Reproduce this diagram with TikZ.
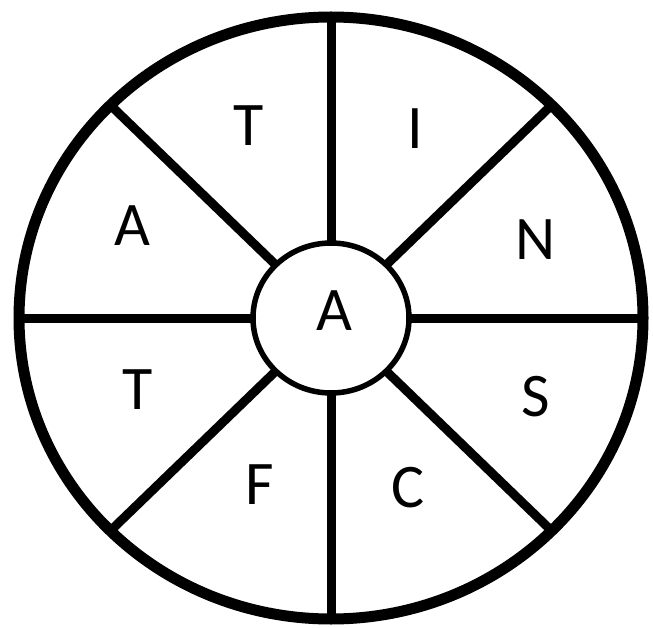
\documentclass[tikz,border=0pt]{standalone}
\usepackage{fontspec}
\setmainfont{Carlito}
\usetikzlibrary{calc}
\begin{document}
\begin{tikzpicture}[x=1pt,y=-1pt,
  letter/.style={font=\fontsize{62}{64}\selectfont, inner sep=0pt, anchor=center},
  spoke/.style={line width=9pt},
  rim/.style={line width=11pt},
  hub/.style={line width=5.5pt}]
\useasboundingbox (0,0) rectangle (653,628);
\coordinate (c) at (331,318);
% spokes
\foreach \a in {0,45,...,315}{
  \draw[spoke] ($(c)+({78*cos(\a)},{75*sin(\a)})$) -- ($(c)+({312*cos(\a)},{301*sin(\a)})$);
}
\draw[rim] (c) ellipse [x radius=312, y radius=301];
\draw[hub, fill=white] (c) ellipse [x radius=78, y radius=75];
\node[letter] (t1) at (249,126) {T};
\node[letter] (i) at (415,129) {I};
\node[letter] (a1) at (132,226) {A};
\node[letter] (n) at (536,240) {N};
\node[letter] (a0) at (334,311) {A};
\node[letter] (t2) at (138,390) {T};
\node[letter] (s) at (536,397) {S};
\node[letter] (f) at (260,485) {F};
\node[letter] (cc) at (408,488) {C};
\end{tikzpicture}
\end{document}
